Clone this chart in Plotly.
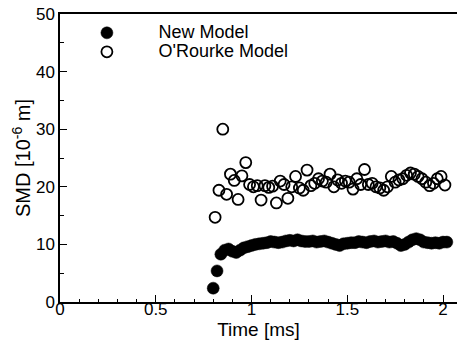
import plotly.graph_objects as go

# New Model (filled circles)
t_new = [0.80, 0.82, 0.84, 0.86, 0.88, 0.90, 0.92, 0.94, 0.96, 0.98,
         1.00, 1.02, 1.04, 1.06, 1.08, 1.10, 1.12, 1.14, 1.16, 1.18,
         1.20, 1.22, 1.24, 1.26, 1.28, 1.30, 1.32, 1.34, 1.36, 1.38,
         1.40, 1.42, 1.44, 1.46, 1.48, 1.50, 1.52, 1.54, 1.56, 1.58,
         1.60, 1.62, 1.64, 1.66, 1.68, 1.70, 1.72, 1.74, 1.76, 1.78,
         1.80, 1.82, 1.84, 1.86, 1.88, 1.90, 1.92, 1.94, 1.96, 1.98,
         2.00, 2.02]
smd_new = [2.4, 5.4, 8.3, 9.0, 9.2, 8.8, 8.6, 9.0, 9.4, 9.6,
           9.8, 10.0, 10.1, 10.2, 10.3, 10.5, 10.4, 10.3, 10.4, 10.6,
           10.7, 10.6, 10.8, 10.6, 10.5, 10.5, 10.6, 10.4, 10.5, 10.6,
           10.4, 10.2, 10.0, 9.8, 10.1, 10.2, 10.3, 10.3, 10.5, 10.4,
           10.3, 10.5, 10.6, 10.4, 10.5, 10.6, 10.4, 10.5, 10.2, 9.8,
           10.0, 10.4, 10.8, 11.0, 10.8, 10.4, 10.3, 10.2, 10.3, 10.2,
           10.4, 10.4]

# O'Rourke Model (open circles)
t_orourke = [0.81, 0.83, 0.85, 0.87, 0.89, 0.91, 0.93, 0.95, 0.97, 0.99,
             1.01, 1.03, 1.05, 1.07, 1.09, 1.11, 1.13, 1.15, 1.17, 1.19,
             1.21, 1.23, 1.25, 1.27, 1.29, 1.31, 1.33, 1.35, 1.37, 1.39,
             1.41, 1.43, 1.45, 1.47, 1.49, 1.51, 1.53, 1.55, 1.57, 1.59,
             1.61, 1.63, 1.65, 1.67, 1.69, 1.71, 1.73, 1.75, 1.77, 1.79,
             1.81, 1.83, 1.85, 1.87, 1.89, 1.91, 1.93, 1.95, 1.97, 1.99,
             2.01]
smd_orourke = [14.7, 19.4, 30.0, 18.7, 22.2, 21.1, 17.8, 21.9, 24.2, 20.4,
               20.0, 20.2, 17.7, 20.2, 19.9, 20.1, 17.2, 21.0, 20.4, 18.0,
               20.0, 21.8, 19.8, 19.4, 22.9, 20.2, 20.6, 21.4, 21.0, 20.8,
               22.2, 20.0, 21.2, 20.6, 21.0, 20.8, 19.6, 21.4, 20.4, 23.0,
               20.4, 20.6, 20.0, 19.8, 19.4, 20.0, 21.8, 20.8, 21.2, 21.4,
               22.0, 22.4, 22.2, 21.8, 21.4, 20.8, 20.2, 20.6, 21.4, 21.8,
               20.3]

x_ticks = [0, 0.5, 1, 1.5, 2]
x_tick_labels = ["0", "0.5", "1", "1.5", "2"]
y_ticks = [0, 10, 20, 30, 40, 50]
y_tick_labels = ["0", "10", "20", "30", "40", "50"]

FONT = "Liberation Sans, Arial, sans-serif"
PAD = "&nbsp;" * 5

fig = go.Figure()
fig.add_trace(go.Scatter(
    x=t_new, y=smd_new, mode="markers",
    name=PAD + '<span style="font-size:18px">New Model</span>',
    marker=dict(symbol="circle", size=12, color="black",
                line=dict(color="black", width=0.5)),
))
fig.add_trace(go.Scatter(
    x=t_orourke, y=smd_orourke, mode="markers",
    name=PAD + '<span style="font-size:18px">O\'Rourke Model</span>',
    marker=dict(symbol="circle-open", size=11, color="black",
                line=dict(color="black", width=1.8)),
))

fig.update_layout(
    width=457, height=340,
    margin=dict(l=60, r=0, t=14, b=38),
    paper_bgcolor="white", plot_bgcolor="white",
    font=dict(family=FONT, color="black", size=17),
    showlegend=True,
    legend=dict(x=0.03, y=0.985, xanchor="left", yanchor="top",
                bgcolor="rgba(0,0,0,0)", font=dict(size=12, family=FONT),
                itemwidth=60, tracegroupgap=0),
    xaxis=dict(
        range=[0, 2.073], showgrid=False, zeroline=False,
        showline=True, linecolor="black", linewidth=1.5, mirror=True,
        ticks="inside", ticklen=7, tickwidth=1.2, tickcolor="black",
        tickvals=x_ticks, ticktext=x_tick_labels,
        minor=dict(ticks="inside", ticklen=3, dtick=0.1, tickcolor="black", tickwidth=1),
        tickfont=dict(size=17), automargin=False, ticklabelstandoff=-9,
        title=dict(text="Time [ms]", font=dict(size=19), standoff=0),
    ),
    yaxis=dict(
        range=[0, 50], showgrid=False, zeroline=False,
        showline=True, linecolor="black", linewidth=1.5, mirror=False,
        ticks="inside", ticklen=7, tickwidth=1.2, tickcolor="black",
        tickvals=y_ticks, ticktext=y_tick_labels,
        minor=dict(ticks="inside", ticklen=4, dtick=5, tickcolor="black", tickwidth=1),
        tickfont=dict(size=17), automargin=False,
        title=dict(text="SMD [10<sup>-6</sup> m]", font=dict(size=20), standoff=0),
    ),
)

fig.write_html("out.html")
